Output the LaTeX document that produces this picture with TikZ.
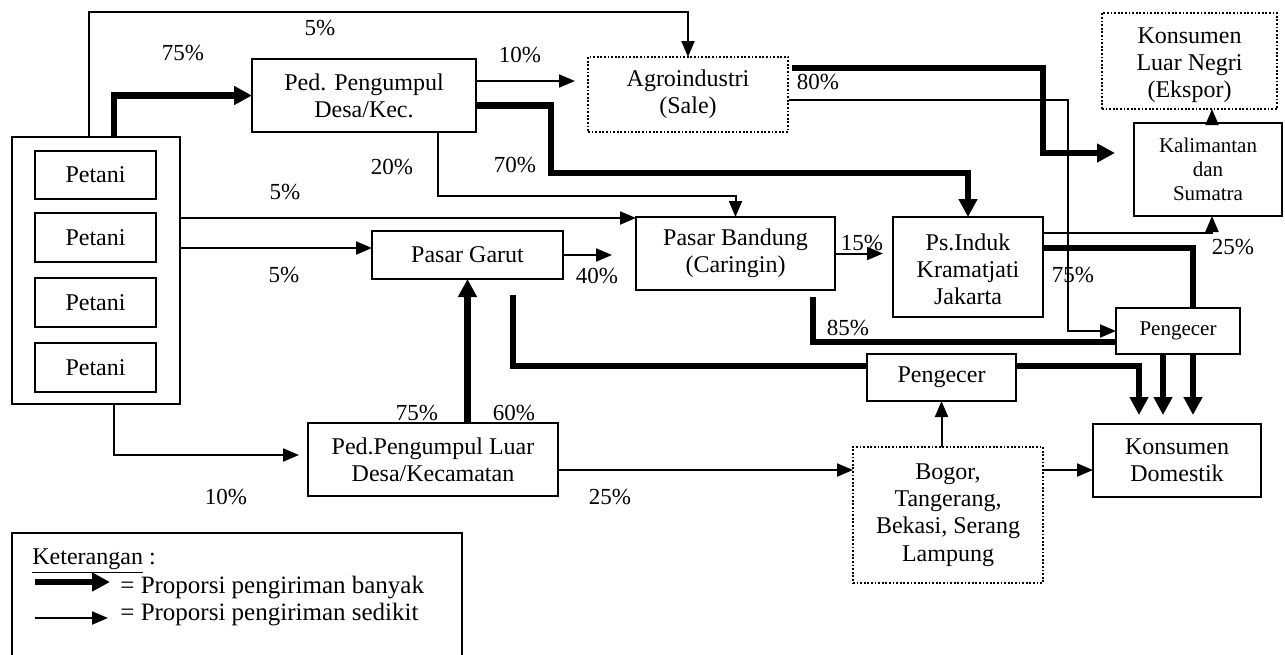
\documentclass[tikz,border=0pt]{standalone}
\usepackage{fontspec}
\setmainfont{Liberation Serif}
\usetikzlibrary{calc,fit,arrows.meta}
\begin{document}
\begin{tikzpicture}[x=0.5pt,y=-0.5pt,
 every node/.style={font=\fontsize{12}{13.6}\selectfont},
 box/.style={draw, line width=1pt, inner sep=0pt, outer sep=0pt},
 dbox/.style={box, line width=0.9pt, dash pattern=on 0.9pt off 0.9pt},
 txt/.style={align=center, inner sep=0pt},
 sm/.style={font=\fontsize{10.5}{12}\selectfont},
 ln/.style={line width=1pt},
 lnA/.style={ln, -{Triangle[length=8pt,width=6.5pt]}},
 tk/.style={line width=3.4pt},
 tkA/.style={tk, -{Triangle[length=9pt,width=9pt]}},
 pct/.style={font=\fontsize{11.5}{13}\selectfont, inner sep=0pt},
]
\useasboundingbox (0,0) rectangle (1285,654);

% boxes
\node[box, fit={(12,137)(180,404)}] (P) {};
\node[box, fit={(35,151)(156,199)}] (p1) {};
\node[txt] (p1t) at (p1) {Petani};
\node[box, fit={(35,213)(156,262)}] (p2) {};
\node[txt] (p2t) at (p2) {Petani};
\node[box, fit={(35,278)(156,327)}] (p3) {};
\node[txt] (p3t) at (p3) {Petani};
\node[box, fit={(35,343)(156,392)}] (p4) {};
\node[txt] (p4t) at (p4) {Petani};
\node[box, fit={(252,59)(476,132)}] (ped) {};
\node[txt] (pedt) at (ped) {Ped. Pengumpul\\Desa/Kec.};
\node[dbox, fit={(588,57)(788,132)}] (agro) {};
\node[txt] (agrot) at (agro) {Agroindustri\\(Sale)};
\node[dbox, fit={(1102,13)(1277,109)}] (kln) {};
\node[txt] (klnt) at ($(kln)+(0,4)$) {Konsumen\\Luar Negri\\(Ekspor)};
\node[box, fit={(1134,123)(1282,216)}] (kal) {};
\node[txt, sm] (kalt) at (kal) {Kalimantan\\dan\\Sumatra};
\node[box, fit={(372,231)(563,279)}] (garut) {};
\node[txt] (garutt) at (garut) {Pasar Garut};
\node[box, fit={(636,217)(835,290)}] (bandung) {};
\node[txt] (bandungt) at (bandung) {Pasar Bandung\\(Caringin)};
\node[box, fit={(893,217)(1043,317)}] (induk) {};
\node[txt] (indukt) at ($(induk)+(0,2)$) {Ps.Induk\\Kramatjati\\Jakarta};
\node[box, fit={(1116,308)(1240,354)}] (pengR) {};
\node[txt, sm] (pengRt) at (pengR) {Pengecer};
\node[box, fit={(867,354)(1016,401)}] (pengM) {};
\node[txt] (pengMt) at (pengM) {Pengecer};
\node[box, fit={(308,423)(558,496)}] (luar) {};
\node[txt] (luart) at (luar) {Ped.Pengumpul Luar\\Desa/Kecamatan};
\node[dbox, fit={(853,447)(1043,583)}] (bogor) {};
\node[txt] (bogort) at (bogor) {Bogor,\\Tangerang,\\Bekasi, Serang\\Lampung};
\node[box, fit={(1093,424)(1261,497)}] (kd) {};
\node[txt] (kdt) at (kd) {Konsumen\\Domestik};

% connectors
\draw[lnA] ($(P.north west)+(77,0)$) -- ++(0,-125) -| (agro.north);
\draw[tkA] ($(P.north west)+(102,0)$) |- (ped.west);
\draw[lnA, shorten >=6.5pt] ($(ped.east)+(0,-14.5)$) -- ($(agro.west)+(0,-13.5)$);
\draw[tkA] ($(ped.east)+(0,10)$) -- ++(75,0) |- ($(induk.north)+(0,-44)$) -- (induk.north);
\draw[lnA] ($(ped.south west)+(186,0)$) |- ($(bandung.north)+(0,-21)$) -- (bandung.north);
\draw[lnA] ($(P.north east)+(0,81)$) -- ($(bandung.north west)+(0,1)$);
\draw[lnA] ($(P.north east)+(0,111)$) -- ($(garut.west)+(0,-7)$);
\draw[lnA, shorten >=12pt] (garut.east) -- (garut.east -| bandung.west);
\draw[tkA] (luar.north -| garut.south) -- (garut.south);
\draw[tk] ($(garut.south west)+(141,16)$) |- ($(pengM.west)+(0,-11.5)$);
\draw[tkA] ($(pengM.east)+(0,-11.5)$) -| ($(kd.north west)+(46,-9)$);
\draw[tk] ($(bandung.south west)+(177,7)$) |- ($(pengR.west)+(0,11)$);
\draw[lnA, shorten >=5pt] (bandung.east) -- (bandung.east -| induk.west);
\draw[lnA] ($(agro.east)+(1,5.5)$) -- ++(279,0) |- (pengR.west);
\draw[tkA, shorten >=9.5pt] ($(agro.north east)+(4,11)$) -- ++(251,0) |- ($(kal.west)+(0,-16.5)$);
\draw[lnA] ($(kal.north west)+(78,0)$) -- ($(kln.south west)+(110,0)$);
\draw[lnA] ($(induk.north east)+(0,16)$) -| ($(kal.south west)+(78,0)$);
\draw[tk] ($(induk.north east)+(0,31)$) -| ($(pengR.north west)+(77,0)$);
\draw[tkA] ($(pengR.south west)+(47,0)$) -- ($(kd.north west)+(70,-9)$);
\draw[tkA] ($(pengR.south west)+(77,0)$) -- ($(kd.north west)+(100,-9)$);
\draw[lnA, shorten >=4.5pt] ($(P.south west)+(102,0)$) |- ($(luar.west)+(0,-4.5)$);
\draw[lnA] ($(luar.east)+(0,10.5)$) -- ($(bogor.west)+(0,-45)$);
\draw[lnA] (bogor.north -| pengM.south) -- (pengM.south);
\draw[lnA] ($(bogor.east)+(0,-45)$) -- ($(kd.west)+(0,9.5)$);

% percentages
\node[pct] (t1) at (320,28) {5\%};
\node[pct] (t2) at (183,53) {75\%};
\node[pct] (t3) at (520,55) {10\%};
\node[pct] (t4) at (818,82) {80\%};
\node[pct] (t5) at (392,167) {20\%};
\node[pct] (t6) at (515,165) {70\%};
\node[pct] (t7) at (285,192) {5\%};
\node[pct] (t8) at (284,275) {5\%};
\node[pct] (t9) at (597,276) {40\%};
\node[pct] (t10) at (862,243) {15\%};
\node[pct] (t11) at (1073,275) {75\%};
\node[pct] (t12) at (1233,247) {25\%};
\node[pct] (t13) at (848,328) {85\%};
\node[pct] (t14) at (417,413) {75\%};
\node[pct] (t15) at (514,413) {60\%};
\node[pct] (t16) at (226,497) {10\%};
\node[pct] (t17) at (610,497) {25\%};

% legend
\node[box, fit={(12,533)(462,700)}] (leg) {};
\node[anchor=west, inner sep=0pt] (legT) at (32,561) {\underline{Keterangan} :};
\coordinate (l1a) at (35,582);
\coordinate (l1b) at (110,582);
\draw[tkA] (l1a) -- (l1b);
\node[anchor=west, inner sep=0pt, font=\fontsize{12.5}{14}\selectfont] (legA) at (120,588) {= Proporsi pengiriman banyak};
\coordinate (l2a) at (35,618);
\coordinate (l2b) at (108,618);
\draw[lnA] (l2a) -- (l2b);
\node[anchor=west, inner sep=0pt, font=\fontsize{12.5}{14}\selectfont] (legB) at (120,615) {= Proporsi pengiriman sedikit};
\end{tikzpicture}
\end{document}
